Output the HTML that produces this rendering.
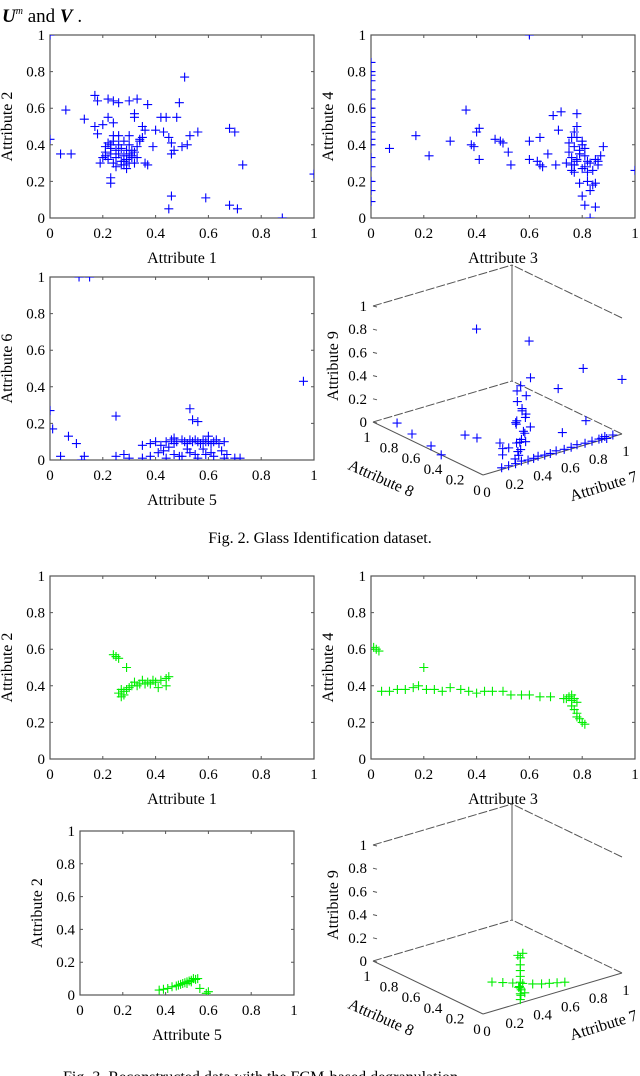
<!DOCTYPE html>
<html><head><meta charset="utf-8">
<style>
html,body{margin:0;padding:0;background:#fff;}
svg{display:block;font-family:"Liberation Serif",serif;}
</style></head>
<body>
<svg id="fig" width="640" height="1076" viewBox="0 0 640 1076" xmlns="http://www.w3.org/2000/svg">
<text x="2" y="22" font-size="19" font-weight="bold" font-style="italic">U<tspan font-size="10" dy="-8" font-weight="normal">m</tspan><tspan dy="8" font-style="normal" font-weight="normal">  and </tspan>V<tspan font-style="normal" font-weight="normal"> .</tspan></text>
<text x="320" y="543" font-size="16" text-anchor="middle">Fig. 2. Glass Identification dataset.</text>
<text x="63" y="1082" font-size="16">Fig. 3. Reconstructed data with the FCM-based degranulation.</text>
</svg>
<script>
// ---- data ----
const f2p1x=[0,0.51,0.04,0.08,0.13,0,0.06,0.68,0.70,0.73,1,0.46,0.45,0.59,0.68,0.71,0.88,0.53,0.56,0.52,0.50,0.48,0.49,0.33,0.37,0.42,0.44,0.40,0.43,0.45,0.46,0.47,0.46,0.39,0.36,0.37,0.23,0.23,0.17,0.18,0.22,0.24,0.26,0.30,0.32,0.32,0.17,0.18,0.20,0.22,0.24,0.35,0.36,0.35,0.34,0.19,0.20,0.21,0.21,0.22,0.22,0.23,0.23,0.24,0.24,0.25,0.25,0.26,0.26,0.27,0.27,0.28,0.28,0.28,0.29,0.29,0.29,0.30,0.30,0.30,0.31,0.31,0.32,0.32,0.33,0.33,0.34,0.26,0.24,0.30,0.27,0.25,0.28,0.21,0.23,0.31];
const f2p1y=[1,0.77,0.35,0.35,0.54,0.43,0.59,0.49,0.47,0.29,0.24,0.12,0.05,0.11,0.07,0.05,0,0.45,0.47,0.40,0.39,0.55,0.63,0.65,0.62,0.55,0.55,0.48,0.47,0.44,0.41,0.37,0.35,0.39,0.30,0.29,0.22,0.19,0.67,0.64,0.65,0.64,0.63,0.64,0.57,0.55,0.50,0.46,0.51,0.55,0.52,0.50,0.48,0.44,0.42,0.30,0.33,0.36,0.39,0.41,0.32,0.35,0.38,0.42,0.30,0.33,0.37,0.40,0.35,0.31,0.38,0.29,0.34,0.42,0.27,0.32,0.37,0.30,0.35,0.40,0.33,0.37,0.30,0.36,0.39,0.33,0.43,0.45,0.45,0.45,0.29,0.28,0.31,0.34,0.40,0.34];
const f2p2x=[0,0,0,0,0,0,0,0,0,0,0,0,0,0,0,0,0,0,0.07,0.17,0.22,0.30,0.36,0.38,0.39,0.40,0.41,0.41,0.47,0.49,0.50,0.52,0.53,0.60,0.60,0.63,0.64,0.64,0.65,0.67,0.69,0.72,0.71,0.70,0.78,0.83,0.85,1,0.60,0.75,0.76,0.77,0.78,0.79,0.80,0.81,0.74,0.75,0.76,0.77,0.78,0.79,0.80,0.81,0.82,0.76,0.77,0.78,0.79,0.80,0.81,0.82,0.83,0.84,0.85,0.86,0.87,0.88,0.86,0.85,0.84,0.83,0.82,0.80,0.79,0.81,0.77,0.78,0.76];
const f2p2y=[0.09,0.15,0.2,0.28,0.33,0.4,0.43,0.47,0.5,0.52,0.55,0.6,0.65,0.7,0.75,0.78,0.8,0.85,0.38,0.45,0.34,0.42,0.59,0.4,0.39,0.47,0.49,0.32,0.43,0.42,0.41,0.36,0.29,0.42,0.32,0.31,0.44,0.29,0.28,0.35,0.56,0.58,0.48,0.29,0.57,0,0.06,0.26,1,0.41,0.44,0.47,0.5,0.35,0.40,0.38,0.30,0.36,0.33,0.29,0.31,0.37,0.27,0.34,0.31,0.29,0.39,0.44,0.35,0.42,0.28,0.25,0.3,0.26,0.32,0.31,0.34,0.39,0.29,0.19,0.18,0.15,0.2,0.12,0.19,0.07,0.25,0.32,0.26,0.12];
const f2p3x=[0,0.01,0.07,0.04,0.10,0.13,0.12,0.25,0.25,0.28,0.35,0.30,0.11,0.15,0.96,0.53,0.56,0.54,0.70,0.72,0.67,0.35,0.38,0.40,0.42,0.44,0.46,0.47,0.48,0.50,0.51,0.52,0.53,0.54,0.55,0.56,0.57,0.58,0.59,0.60,0.61,0.62,0.63,0.64,0.66,0.38,0.41,0.44,0.47,0.50,0.53,0.56,0.59,0.62,0.65,0.45,0.52,0.58,0.49,0.55,0.61,0.43,0.47,0.60,0.66];
const f2p3y=[0.27,0.17,0.13,0.02,0.09,0.02,0,0.24,0.02,0.03,0.01,0.01,1,1,0.43,0.28,0.21,0.22,0.01,0.01,0.03,0.08,0.09,0.1,0.08,0.1,0.11,0.09,0.1,0.11,0.1,0.09,0.11,0.1,0.11,0.1,0.09,0.11,0.1,0.1,0.09,0.1,0.11,0.09,0.1,0.02,0.04,0.01,0.03,0.02,0.04,0.01,0.03,0.02,0.05,0.07,0.06,0.06,0.02,0.03,0.04,0.05,0.12,0.13,0.01];
// 3D: attribute 7, 8, 9
const f2a7=[0.27,0.49,0.80,1.0,0.50,0.62,0.78,0.65,0.098,0.063,0.037,0,0.29,0.316,0.372,0.89,0.87,0.35,0.36,0.34,0.37,0.35,0.33,0.38,0.36,0.35,0.39,0.34,0.37,0.42,0.40,0.36,0.35,0.33,0.38,0.15,0.2,0.25,0.3,0.34,0.38,0.42,0.46,0.5,0.55,0.6,0.65,0.7,0.75,0.8,0.85,0.9,0.95,0.22,0.28,0.32,0.36,0.30,0.27,0.33];
const f2a8=[0.4,0.2,0.1,0,0.2,0.1,0.05,0.1,0.905,0.725,0.519,0.38,0.53,0.454,0.316,0,0.02,0.1,0.12,0.08,0.1,0.14,0.11,0.09,0.1,0.13,0.1,0.12,0.08,0.1,0.12,0.1,0.1,0.12,0.1,0.02,0.02,0.02,0.03,0.02,0.02,0.03,0.02,0.02,0.03,0.02,0.02,0.03,0.02,0.02,0.02,0.03,0.02,0.1,0.12,0.08,0.15,0.2,0.05,0.1];
const f2a9=[0.98,0.89,0.59,0.47,0.57,0.48,0.17,0.09,0,0,0,0,0,0,0,0,0,0.05,0.1,0.15,0.2,0.25,0.3,0.35,0.4,0.45,0.5,0.55,0.12,0.22,0.3,0.38,0.6,0.28,0.18,0,0,0,0,0,0,0,0,0,0,0,0,0,0,0,0,0,0,0.05,0.08,0.02,0.08,0.03,0.02,0.04];
const f3p1x=[0.24,0.25,0.26,0.29,0.26,0.27,0.28,0.29,0.30,0.31,0.32,0.34,0.35,0.37,0.38,0.39,0.40,0.42,0.44,0.45,0.44,0.41,0.27,0.28,0.25,0.33,0.36];
const f3p1y=[0.57,0.56,0.55,0.50,0.36,0.34,0.37,0.38,0.39,0.40,0.42,0.41,0.43,0.42,0.41,0.43,0.42,0.43,0.44,0.45,0.40,0.39,0.38,0.35,0.56,0.40,0.41];
const f3p2x=[0.01,0.02,0.03,0.20,0.04,0.07,0.10,0.13,0.16,0.18,0.21,0.24,0.27,0.30,0.34,0.37,0.40,0.43,0.46,0.50,0.53,0.57,0.60,0.64,0.68,0.73,0.75,0.76,0.77,0.78,0.76,0.77,0.78,0.78,0.79,0.80,0.81,0.74,0.76];
const f3p2y=[0.61,0.60,0.59,0.50,0.37,0.37,0.38,0.38,0.39,0.40,0.38,0.38,0.37,0.39,0.38,0.37,0.36,0.37,0.37,0.37,0.35,0.35,0.35,0.34,0.34,0.33,0.34,0.32,0.33,0.31,0.29,0.27,0.25,0.23,0.22,0.20,0.19,0.33,0.35];
const f3p3x=[0.37,0.39,0.41,0.43,0.45,0.46,0.47,0.48,0.49,0.50,0.51,0.52,0.53,0.54,0.55,0.50,0.52,0.56,0.60,0.59];
const f3p3y=[0.03,0.035,0.04,0.05,0.055,0.06,0.065,0.07,0.075,0.08,0.085,0.09,0.1,0.095,0.1,0.07,0.08,0.04,0.02,0.01];
const f3a7=[0.3,0.3,0.3,0.3,0.3,0.3,0.3,0.3,0.29,0.31,0.32,0.34,0.336,0.38,0.42,0.46,0.5,0.54,0.58,0.62,0.66,0.32,0.33,0.31];
const f3a8=[0.04,0.04,0.04,0.04,0.04,0.04,0.04,0.04,0.05,0.03,0.06,0.05,0.343,0.3,0.26,0.22,0.18,0.15,0.13,0.11,0.09,0.08,0.07,0.06];
const f3a9=[0,0.05,0.1,0.15,0.2,0.25,0.3,0.36,0.38,0.4,0.02,0.04,0,0,0,0,0,0,0,0,0,0.08,0.06,0.1];
const ticks=[0,0.2,0.4,0.6,0.8,1];
const tickLabels=["0","0.2","0.4","0.6","0.8","1"];

const NS="http://www.w3.org/2000/svg";
const svg=document.getElementById('fig');
function mk(tag,attrs,parent){const e=document.createElementNS(NS,tag);for(const k in attrs)e.setAttribute(k,attrs[k]);(parent||svg).appendChild(e);return e;}
function txt(x,y,s,size,anchor,parent){const t=mk('text',{x:x,y:y,'font-size':size,'text-anchor':anchor},parent);t.textContent=s;return t;}
function plus(g,x,y,color){
  const p=mk('path',{d:`M${x-4.5},${y}H${x+4.5}M${x},${y-4.5}V${y+4.5}`,stroke:color,'stroke-width':1.1,fill:'none'},g);
  
  
}
let clipId=0;
function scatter(name,L,R,T,B,xs,ys,color,xlab,ylab){
  const g=mk('g',{});
  
  
  const sx=v=>L+v*(R-L), sy=v=>B-v*(B-T);
  const frame=mk('rect',{x:L,y:T,width:R-L,height:B-T,fill:'none',stroke:'#555','stroke-width':1.2},g);
  
  
  ticks.forEach((t,i)=>{
    mk('path',{d:`M${sx(t)},${B}v-3M${sx(t)},${T}v3M${L},${sy(t)}h3M${R},${sy(t)}h-3`,stroke:'#555','stroke-width':1},g);
    const xl=txt(sx(t),B+20,tickLabels[i],15,'middle',g);
    
    
    const yl=txt(L-5,sy(t)+5,tickLabels[i],15,'end',g);
    
    
  });
  const xt=txt((L+R)/2,B+45,xlab,16,'middle',g);
  
  
  const yt=txt(0,0,ylab,16,'middle',g);
  yt.setAttribute('transform',`translate(${L-38},${(T+B)/2}) rotate(-90)`);
  
  
  const id='c'+(clipId++);
  const cp=mk('clipPath',{id:id},g);mk('rect',{x:L,y:T,width:R-L,height:B-T},cp);
  const pg=mk('g',{'clip-path':`url(#${id})`},g);
  
  
  xs.forEach((v,i)=>plus(pg,sx(v),sy(ys[i]),color));
}
function scatter3d(name,oy,a7,a8,a9,color){
  const g=mk('g',{});
  
  
  const F=[483,475+oy], U7=[139,-41], U8=[-110,-53], UZ=116;
  const P=(x,y,z)=>[F[0]+x*U7[0]+y*U8[0], F[1]+x*U7[1]+y*U8[1]-z*UZ];
  const line=(a,b,dash)=>mk('line',{x1:a[0],y1:a[1],x2:b[0],y2:b[1],stroke:'#555','stroke-width':1,'stroke-dasharray':dash||'none'},g);
  line(P(0,0,0),P(1,0,0));line(P(0,0,0),P(0,1,0));
  line(P(0,1,0),P(1,1,0),'9,2');line(P(1,0,0),P(1,1,0),'9,2');
  line(P(1,1,0),P(1,1,1));
  line(P(0,1,1),P(1,1,1),'9,2');line(P(1,0,1),P(1,1,1),'9,2');
  ticks.forEach((t,i)=>{
    const a=P(0,1,t);mk('line',{x1:a[0],y1:a[1],x2:a[0]+4,y2:a[1]+1,stroke:'#555'},g);
    const zl=txt(a[0]-6,a[1]+5,tickLabels[i],15,'end',g);
    
    
    const b=P(t,0,0);const xl=txt(b[0]+4,b[1]+22,tickLabels[i],15,'middle',g);
    
    
    const c=P(0,t,0);const yl=txt(c[0]-6,c[1]+20,tickLabels[i],15,'middle',g);
    
    
  });
  const zt=txt(0,0,'Attribute 9',16,'middle',g);
  zt.setAttribute('transform',`translate(${338},${P(0,1,0.5)[1]+2}) rotate(-90)`);
  
  
  const xt=txt(0,0,'Attribute 7',16,'middle',g);
  xt.setAttribute('transform',`translate(${605},${491+oy}) rotate(-17)`);
  
  
  const yt=txt(0,0,'Attribute 8',16,'middle',g);
  yt.setAttribute('transform',`translate(${379},${483+oy}) rotate(24)`);
  
  
  const pg=mk('g',{},g);
  
  
  a7.forEach((v,i)=>{const p=P(v,a8[i],a9[i]);plus(pg,p[0],p[1],color);});
}
const BL='#0000ff', GR='#00ee00';
scatter('fig2-attr1-vs-attr2',50,314,35,218,f2p1x,f2p1y,BL,'Attribute 1','Attribute 2');
scatter('fig2-attr3-vs-attr4',371,635,35,218,f2p2x,f2p2y,BL,'Attribute 3','Attribute 4');
scatter('fig2-attr5-vs-attr6',50,314,277,460,f2p3x,f2p3y,BL,'Attribute 5','Attribute 6');
scatter3d('fig2-3d-attr7-8-9',0,f2a7,f2a8,f2a9,BL);
scatter('fig3-attr1-vs-attr2',50,314,576,759,f3p1x,f3p1y,GR,'Attribute 1','Attribute 2');
scatter('fig3-attr3-vs-attr4',371,635,576,759,f3p2x,f3p2y,GR,'Attribute 3','Attribute 4');
scatter('fig3-attr5-vs-attr2',80,294,831,995,f3p3x,f3p3y,GR,'Attribute 5','Attribute 2');
scatter3d('fig3-3d-attr7-8-9',539,f3a7,f3a8,f3a9,GR);
</script>
</body></html>
